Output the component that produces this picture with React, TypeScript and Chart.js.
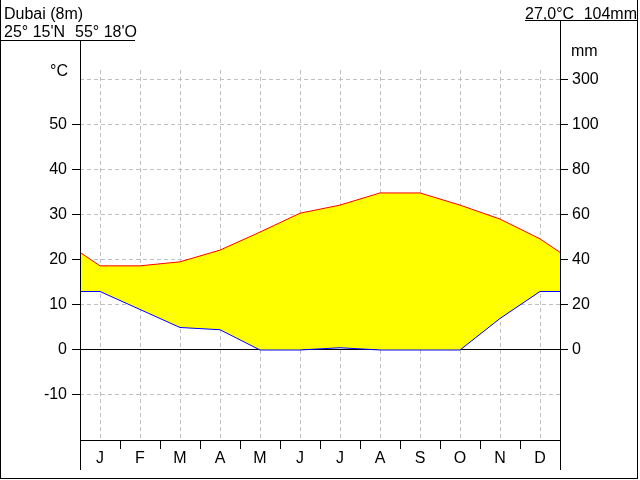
import React, { useEffect, useRef } from 'react';
import { Chart, registerables } from 'chart.js';

Chart.register(...registerables);

const MONTHS = ['J', 'F', 'M', 'A', 'M', 'J', 'J', 'A', 'S', 'O', 'N', 'D'];
const TEMP_C = [18.7, 18.7, 19.6, 22.2, 26.2, 30.4, 32.2, 34.9, 34.9, 32.2, 29.1, 24.7];
const PRECIP_MM = [26, 18, 10, 9, 0, 0, 1, 0, 0, 0, 14, 26];
const TEMP_TICKS = [-20, -10, 0, 10, 20, 30, 40, 50, 60];
const TEMP_LABELED = [-10, 0, 10, 20, 30, 40, 50];
const PRECIP_TICKS = [0, 20, 40, 60, 80, 100, 120];
const PRECIP_LABELS = ['0', '20', '40', '60', '80', '100', '300'];
const TEMP_MIN = -20;
const TEMP_MAX = 62.222;
const STATION = 'Dubai (8m)';
const LATITUDE = "25° 15'N";
const LONGITUDE = "55° 18'O";
const MEAN_TEMP = '27,0°C';
const TOTAL_PRECIP = '104mm';

const FONT_FAMILY = '"Liberation Sans", Arial, sans-serif';
const GRID = '#c0c0c0';

function withEdges(vals: number[]) {
  const edge = (vals[0] + vals[11]) / 2;
  return [
    { x: 0, y: edge },
    ...vals.map((v, i) => ({ x: i + 0.5, y: v })),
    { x: 12, y: edge },
  ];
}

const X_TICKS: number[] = [];
for (let i = 0; i <= 24; i++) X_TICKS.push(i / 2);

const framePlugin = {
  id: 'frame',
  afterDraw(chart: any) {
    const ctx = chart.ctx;
    const { left, right, bottom } = chart.chartArea;
    ctx.save();
    ctx.strokeStyle = '#000';
    ctx.lineWidth = 1;
    const line = (x1: number, y1: number, x2: number, y2: number) => {
      ctx.beginPath();
      ctx.moveTo(x1, y1);
      ctx.lineTo(x2, y2);
      ctx.stroke();
    };
    line(0.5, 0, 0.5, 479);
    line(0, 478.5, 638, 478.5);
    line(637.5, 0, 637.5, 479);
    line(left + 0.5, 40, left + 0.5, 470);
    line(right + 0.5, 20, right + 0.5, 470);
    line(left, bottom + 0.5, right + 1, bottom + 0.5);
    line(0, 40.5, 135, 40.5);
    line(525, 20.5, 638, 20.5);

    ctx.fillStyle = '#000';
    ctx.font = '16px ' + FONT_FAMILY;
    ctx.textBaseline = 'alphabetic';
    ctx.textAlign = 'left';
    ctx.fillText(STATION, 4, 19);
    ctx.fillText(LATITUDE, 4, 37);
    ctx.fillText(LONGITUDE, 75, 37);
    ctx.fillText(MEAN_TEMP, 525, 19);
    ctx.textAlign = 'right';
    ctx.fillText(TOTAL_PRECIP, 637, 19);
    ctx.fillText('°C', 68, 76);
    ctx.textAlign = 'left';
    ctx.fillText('mm', 571, 56);
    ctx.restore();
  },
};

export default function App() {
  const ref = useRef<HTMLCanvasElement | null>(null);

  useEffect(() => {
    if (!ref.current) return;
    const font = { family: FONT_FAMILY, size: 16 };
    const chart = new Chart(ref.current, {
      type: 'line',
      data: {
        datasets: [
          {
            label: 'Temperatur',
            data: withEdges(TEMP_C),
            xAxisID: 'x',
            yAxisID: 'y',
            borderColor: '#ff0000',
            borderWidth: 1,
            pointRadius: 0,
            tension: 0,
            fill: { target: 1, above: '#ffff00', below: 'rgba(0,0,255,0.4)' },
          },
          {
            label: 'Niederschlag',
            data: withEdges(PRECIP_MM),
            xAxisID: 'x',
            yAxisID: 'yP',
            borderColor: '#0000ff',
            borderWidth: 1,
            pointRadius: 0,
            tension: 0,
            fill: false,
          },
        ],
      },
      options: {
        responsive: false,
        animation: false,
        devicePixelRatio: 1,
        layout: { padding: { top: 70, left: 0, right: 0, bottom: 0 } },
        plugins: {
          legend: { display: false },
          tooltip: { enabled: false },
          filler: { drawTime: 'beforeDatasetsDraw' },
        },
        scales: {
          x: {
            type: 'linear',
            position: 'bottom',
            min: 0,
            max: 12,
            afterBuildTicks: (s: any) => {
              s.ticks = X_TICKS.map((v) => ({ value: v }));
            },
            afterFit: (s: any) => {
              s.height = 40;
            },
            ticks: {
              autoSkip: false,
              maxRotation: 0,
              minRotation: 0,
              padding: 0,
              color: '#000',
              font,
              callback: (v: any) => {
                const i = Number(v) - 0.5;
                return Number.isInteger(i) ? MONTHS[i] : '';
              },
            },
            grid: {
              color: (c: any) => {
                const v = c.tick ? c.tick.value : 0;
                return Number.isInteger(v - 0.5) ? GRID : 'rgba(0,0,0,0)';
              },
              tickColor: (c: any) => {
                const v = c.tick ? c.tick.value : 0;
                return Number.isInteger(v) && v > 0 && v < 12 ? '#000' : 'rgba(0,0,0,0)';
              },
              tickLength: 9,
              lineWidth: 1,
              tickWidth: 1,
              tickBorderDash: [],
            },
            border: { display: false, dash: [4, 3] },
          },
          y: {
            type: 'linear',
            position: 'left',
            min: TEMP_MIN,
            max: TEMP_MAX,
            afterBuildTicks: (s: any) => {
              s.ticks = TEMP_TICKS.map((v) => ({ value: v }));
            },
            afterFit: (s: any) => {
              s.width = 80;
            },
            ticks: {
              padding: 5,
              color: '#000',
              font,
              callback: (v: any) => (TEMP_LABELED.includes(Number(v)) ? String(v) : ''),
            },
            grid: {
              color: (c: any) => {
                const v = c.tick ? c.tick.value : TEMP_MIN;
                if (v === TEMP_MIN) return 'rgba(0,0,0,0)';
                return v === 0 ? '#000' : GRID;
              },
              tickColor: (c: any) => {
                const v = c.tick ? c.tick.value : TEMP_MIN;
                return TEMP_LABELED.includes(v) ? '#000' : 'rgba(0,0,0,0)';
              },
              tickLength: 8,
              lineWidth: 1,
              tickWidth: 1,
              tickBorderDash: [],
            },
            border: {
              display: false,
              dash: (c: any) => (c.tick && c.tick.value === 0 ? [] : [4, 3]),
            },
          },
          yP: {
            type: 'linear',
            position: 'right',
            min: TEMP_MIN * 2,
            max: TEMP_MAX * 2,
            afterBuildTicks: (s: any) => {
              s.ticks = PRECIP_TICKS.map((v) => ({ value: v }));
            },
            afterFit: (s: any) => {
              s.width = 80;
            },
            ticks: {
              padding: 4,
              color: '#000',
              font,
              callback: (_v: any, i: number) => PRECIP_LABELS[i],
            },
            grid: {
              drawOnChartArea: false,
              color: '#000',
              tickColor: '#000',
              tickLength: 8,
              lineWidth: 1,
              tickWidth: 1,
              tickBorderDash: [],
            },
            border: { display: false },
          },
        },
      },
      plugins: [framePlugin],
    } as any);
    return () => chart.destroy();
  }, []);

  return (
    <div style={{ position: 'fixed', left: 0, top: 0, width: 640, height: 480, background: '#fff' }}>
      <canvas ref={ref} width={640} height={480} style={{ display: 'block' }} />
    </div>
  );
}
